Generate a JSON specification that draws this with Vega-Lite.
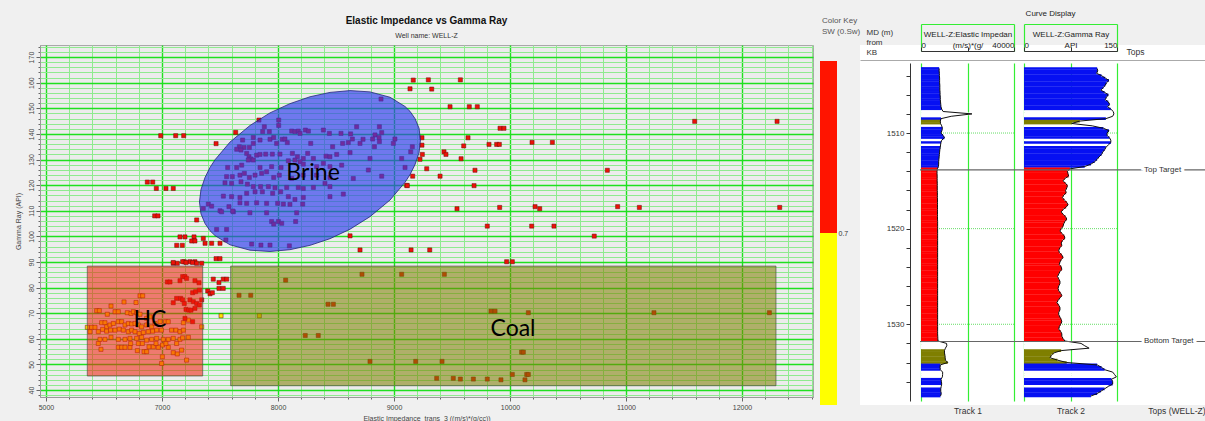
{
  "$schema": "https://vega.github.io/schema/vega-lite/v6.json",
  "autosize": "none",
  "padding": {"left": 40, "top": 45, "right": 1165, "bottom": 376},
  "background": "#f0f0f0",
  "spacing": 7,
  "bounds": "flush",
  "config": {"font": "Liberation Sans", "view": {"stroke": null}},
  "datasets": {
    "pts": [
      {"e":6978,"g":139.3,"sw":0.85},{"e":7118,"g":139.3,"sw":0.85},{"e":7187,"g":139.3,"sw":0.85},{"e":7635,"g":140.6,"sw":0.85},{"e":7466,"g":136.2,"sw":0.85},
      {"e":6747,"g":121.2,"sw":0.85},{"e":6840,"g":121.2,"sw":0.85},{"e":6902,"g":118.7,"sw":0.85},{"e":7034,"g":118.7,"sw":0.85},{"e":7097,"g":118.7,"sw":0.85},
      {"e":6874,"g":108.0,"sw":0.85},{"e":6931,"g":108.0,"sw":0.85},{"e":7299,"g":106.4,"sw":0.85},{"e":7155,"g":99.8,"sw":0.85},{"e":7198,"g":99.8,"sw":0.85},
      {"e":7276,"g":99.8,"sw":0.85},{"e":7127,"g":96.5,"sw":0.85},{"e":7175,"g":96.5,"sw":0.85},{"e":7256,"g":98.2,"sw":0.85},{"e":7284,"g":98.2,"sw":0.85},
      {"e":7356,"g":99.2,"sw":0.85},{"e":7371,"g":97.3,"sw":0.85},{"e":7428,"g":97.3,"sw":0.85},{"e":7500,"g":97.3,"sw":0.85},{"e":7466,"g":91.3,"sw":0.85},
      {"e":7500,"g":91.3,"sw":0.85},{"e":7097,"g":89.5,"sw":0.85},{"e":7132,"g":89.5,"sw":0.85},{"e":7192,"g":90.1,"sw":0.85},{"e":7241,"g":90.1,"sw":0.85},
      {"e":7284,"g":90.1,"sw":0.85},{"e":9138,"g":157.6,"sw":0.85},{"e":9166,"g":161.0,"sw":0.85},{"e":8621,"g":100.2,"sw":0.85},{"e":8707,"g":94.7,"sw":0.85},
      {"e":9147,"g":94.7,"sw":0.85},{"e":9109,"g":119.9,"sw":0.85},{"e":9224,"g":130.1,"sw":0.85},
      {"e":7442,"g":83.3,"sw":0.85},{"e":7491,"g":82.0,"sw":0.85},{"e":7528,"g":83.3,"sw":0.85},{"e":7558,"g":83.3,"sw":0.85},{"e":7491,"g":79.7,"sw":0.85},
      {"e":7528,"g":79.7,"sw":0.85},{"e":7394,"g":78.7,"sw":0.85},{"e":7414,"g":77.6,"sw":0.85},{"e":7434,"g":78.0,"sw":0.85},
      {"e":7509,"g":69.0,"sw":0.45},{"e":7839,"g":69.0,"sw":0.45},
      {"e":7664,"g":77.0,"sw":0.85},{"e":7765,"g":77.0,"sw":0.85},{"e":8066,"g":82.9,"sw":0.85},{"e":8724,"g":85.2,"sw":0.85},{"e":9066,"g":85.2,"sw":0.85},
      {"e":8431,"g":73.5,"sw":0.85},{"e":8477,"g":73.5,"sw":0.85},{"e":8235,"g":61.3,"sw":0.85},{"e":8347,"g":61.3,"sw":0.85},{"e":8793,"g":51.2,"sw":0.85},{"e":9187,"g":51.2,"sw":0.85},
      {"e":9296,"g":161.1,"sw":0.85},{"e":9572,"g":161.1,"sw":0.85},{"e":9325,"g":157.5,"sw":0.85},{"e":9483,"g":150.6,"sw":0.85},{"e":9649,"g":150.6,"sw":0.85},
      {"e":9718,"g":150.6,"sw":0.85},{"e":11592,"g":144.9,"sw":0.85},{"e":12302,"g":144.9,"sw":0.85},{"e":9914,"g":142.2,"sw":0.85},{"e":9948,"g":142.2,"sw":0.85},
      {"e":9638,"g":138.5,"sw":0.85},{"e":9241,"g":138.5,"sw":0.85},{"e":9601,"g":135.3,"sw":0.85},{"e":9819,"g":135.9,"sw":0.85},{"e":9885,"g":135.9,"sw":0.85},
      {"e":9908,"g":135.9,"sw":0.85},{"e":10190,"g":136.7,"sw":0.85},{"e":10365,"g":136.7,"sw":0.85},{"e":9431,"g":133.0,"sw":0.85},{"e":9448,"g":132.0,"sw":0.85},
      {"e":9578,"g":130.3,"sw":0.85},{"e":9241,"g":135.6,"sw":0.85},{"e":9244,"g":132.0,"sw":0.85},{"e":9282,"g":126.4,"sw":0.85},{"e":9698,"g":125.8,"sw":0.85},
      {"e":10839,"g":125.8,"sw":0.85},{"e":9161,"g":123.5,"sw":0.85},{"e":9397,"g":123.5,"sw":0.85},{"e":9115,"g":119.8,"sw":0.85},{"e":9690,"g":119.8,"sw":0.85},
      {"e":9543,"g":110.8,"sw":0.85},{"e":9911,"g":111.3,"sw":0.85},{"e":10216,"g":111.6,"sw":0.85},{"e":10256,"g":110.8,"sw":0.85},{"e":10928,"g":111.6,"sw":0.85},
      {"e":11115,"g":111.3,"sw":0.85},{"e":12325,"g":111.3,"sw":0.85},{"e":9804,"g":104.0,"sw":0.85},{"e":10187,"g":104.0,"sw":0.85},{"e":10379,"g":104.0,"sw":0.85},
      {"e":10726,"g":100.1,"sw":0.85},{"e":9308,"g":94.7,"sw":0.85},{"e":9971,"g":90.1,"sw":0.85},{"e":10020,"g":90.1,"sw":0.85},
      {"e":9434,"g":85.2,"sw":0.85},{"e":9836,"g":70.8,"sw":0.85},{"e":9871,"g":70.8,"sw":0.85},{"e":10158,"g":70.2,"sw":0.85},{"e":11241,"g":70.2,"sw":0.85},
      {"e":12236,"g":70.2,"sw":0.85},{"e":10100,"g":54.8,"sw":0.85},{"e":10115,"g":54.8,"sw":0.85},{"e":9414,"g":51.2,"sw":0.85},{"e":9368,"g":44.6,"sw":0.85},
      {"e":9511,"g":44.6,"sw":0.85},{"e":9572,"g":44.3,"sw":0.85},{"e":9684,"g":44.3,"sw":0.85},{"e":9804,"g":44.3,"sw":0.85},{"e":9922,"g":44.0,"sw":0.85},
      {"e":10020,"g":46.1,"sw":0.85},{"e":10129,"g":44.0,"sw":0.85},{"e":10144,"g":46.1,"sw":0.85},{"e":10158,"g":46.1,"sw":0.85},
      {"e":8888,"g":153.6,"sw":0.85},{"e":7836,"g":145.4,"sw":0.85},{"e":8006,"g":145.4,"sw":0.85},{"e":7882,"g":142.8,"sw":0.85},{"e":8006,"g":143.3,"sw":0.85},
      {"e":8678,"g":142.8,"sw":0.85},{"e":7868,"g":140.9,"sw":0.85},{"e":7925,"g":140.9,"sw":0.85},{"e":8118,"g":141.1,"sw":0.85},{"e":8146,"g":140.9,"sw":0.85},
      {"e":8175,"g":141.1,"sw":0.85},{"e":8236,"g":141.5,"sw":0.85},{"e":8262,"g":141.1,"sw":0.85},{"e":8391,"g":141.5,"sw":0.85},{"e":8874,"g":142.8,"sw":0.85},
      {"e":8894,"g":140.5,"sw":0.85},{"e":8836,"g":139.6,"sw":0.85},{"e":7695,"g":137.6,"sw":0.85},{"e":7787,"g":138.6,"sw":0.85},{"e":7845,"g":137.6,"sw":0.85},
      {"e":7931,"g":137.9,"sw":0.85},{"e":7963,"g":138.6,"sw":0.85},{"e":8037,"g":137.9,"sw":0.85},{"e":8060,"g":138.0,"sw":0.85},{"e":8190,"g":140.2,"sw":0.85},
      {"e":8443,"g":140.2,"sw":0.85},{"e":8543,"g":140.2,"sw":0.85},{"e":8626,"g":140.0,"sw":0.85},{"e":8641,"g":138.0,"sw":0.85},{"e":8733,"g":137.9,"sw":0.85},
      {"e":8816,"g":138.0,"sw":0.85},{"e":8871,"g":138.6,"sw":0.85},{"e":9008,"g":138.0,"sw":0.85},{"e":7667,"g":135.0,"sw":0.85},{"e":7707,"g":134.7,"sw":0.85},
      {"e":7753,"g":134.7,"sw":0.85},{"e":7787,"g":136.3,"sw":0.85},{"e":7988,"g":136.3,"sw":0.85},{"e":8080,"g":136.6,"sw":0.85},{"e":8282,"g":136.3,"sw":0.85},
      {"e":8471,"g":135.0,"sw":0.85},{"e":8557,"g":136.3,"sw":0.85},{"e":8606,"g":136.6,"sw":0.85},{"e":8707,"g":136.3,"sw":0.85},{"e":8831,"g":135.0,"sw":0.85},
      {"e":8874,"g":137.0,"sw":0.85},{"e":8994,"g":136.3,"sw":0.85},{"e":9158,"g":135.0,"sw":0.85},{"e":7644,"g":134.0,"sw":0.85},{"e":7681,"g":133.7,"sw":0.85},
      {"e":7730,"g":132.4,"sw":0.85},{"e":7750,"g":131.1,"sw":0.85},{"e":7767,"g":130.2,"sw":0.85},{"e":7816,"g":131.7,"sw":0.85},{"e":7845,"g":132.0,"sw":0.85},
      {"e":7894,"g":132.1,"sw":0.85},{"e":7951,"g":132.1,"sw":0.85},{"e":8017,"g":132.1,"sw":0.85},{"e":8124,"g":132.4,"sw":0.85},{"e":8167,"g":131.1,"sw":0.85},
      {"e":8218,"g":130.4,"sw":0.85},{"e":8256,"g":132.4,"sw":0.85},{"e":8305,"g":130.4,"sw":0.85},{"e":8414,"g":131.3,"sw":0.85},{"e":8448,"g":131.1,"sw":0.85},
      {"e":8506,"g":132.0,"sw":0.85},{"e":8621,"g":132.7,"sw":0.85},{"e":8793,"g":130.4,"sw":0.85},{"e":9066,"g":130.4,"sw":0.85},{"e":9144,"g":133.0,"sw":0.85},
      {"e":7566,"g":126.9,"sw":0.85},{"e":7644,"g":126.9,"sw":0.85},{"e":7687,"g":127.8,"sw":0.85},{"e":7744,"g":129.8,"sw":0.85},{"e":7787,"g":129.8,"sw":0.85},
      {"e":7845,"g":126.9,"sw":0.85},{"e":7945,"g":127.2,"sw":0.85},{"e":8026,"g":126.9,"sw":0.85},{"e":8089,"g":129.5,"sw":0.85},{"e":8146,"g":129.8,"sw":0.85},
      {"e":8190,"g":129.1,"sw":0.85},{"e":8218,"g":128.2,"sw":0.85},{"e":8333,"g":127.2,"sw":0.85},{"e":8391,"g":128.5,"sw":0.85},{"e":8448,"g":127.2,"sw":0.85},
      {"e":8549,"g":127.8,"sw":0.85},{"e":8779,"g":125.9,"sw":0.85},{"e":9095,"g":126.9,"sw":0.85},{"e":7557,"g":123.3,"sw":0.85},{"e":7606,"g":123.3,"sw":0.85},
      {"e":7672,"g":123.9,"sw":0.85},{"e":7710,"g":124.6,"sw":0.85},{"e":7753,"g":123.0,"sw":0.85},{"e":7802,"g":123.9,"sw":0.85},{"e":7859,"g":124.6,"sw":0.85},
      {"e":7902,"g":125.2,"sw":0.85},{"e":7963,"g":123.0,"sw":0.85},{"e":8011,"g":123.9,"sw":0.85},{"e":8118,"g":122.6,"sw":0.85},{"e":8218,"g":123.9,"sw":0.85},
      {"e":8333,"g":123.9,"sw":0.85},{"e":8448,"g":123.0,"sw":0.85},{"e":8649,"g":122.6,"sw":0.85},{"e":8894,"g":123.5,"sw":0.85},{"e":7543,"g":120.9,"sw":0.85},
      {"e":7600,"g":120.7,"sw":0.85},{"e":7681,"g":121.3,"sw":0.85},{"e":7736,"g":120.4,"sw":0.85},{"e":7787,"g":119.4,"sw":0.85},{"e":7850,"g":119.4,"sw":0.85},
      {"e":7917,"g":119.4,"sw":0.85},{"e":7974,"g":119.0,"sw":0.85},{"e":8075,"g":119.1,"sw":0.85},{"e":8175,"g":119.1,"sw":0.85},{"e":8305,"g":119.1,"sw":0.85},
      {"e":8218,"g":118.7,"sw":0.85},{"e":8405,"g":120.7,"sw":0.85},{"e":8448,"g":119.4,"sw":0.85},{"e":7529,"g":115.7,"sw":0.85},{"e":7600,"g":115.5,"sw":0.85},
      {"e":7672,"g":115.2,"sw":0.85},{"e":7730,"g":116.8,"sw":0.85},{"e":7802,"g":117.4,"sw":0.85},{"e":7865,"g":117.4,"sw":0.85},{"e":7954,"g":116.8,"sw":0.85},
      {"e":8023,"g":117.4,"sw":0.85},{"e":8089,"g":115.5,"sw":0.85},{"e":8146,"g":114.4,"sw":0.85},{"e":8218,"g":115.2,"sw":0.85},{"e":8448,"g":115.5,"sw":0.85},
      {"e":8563,"g":116.5,"sw":0.85},{"e":7399,"g":112.6,"sw":0.85},{"e":7428,"g":111.8,"sw":0.85},{"e":7356,"g":110.9,"sw":0.85},{"e":7500,"g":110.0,"sw":0.85},
      {"e":7577,"g":111.6,"sw":0.85},{"e":7615,"g":109.6,"sw":0.85},{"e":7672,"g":113.1,"sw":0.85},{"e":7730,"g":112.9,"sw":0.85},{"e":7816,"g":113.1,"sw":0.85},
      {"e":7902,"g":112.9,"sw":0.85},{"e":7997,"g":112.9,"sw":0.85},{"e":8046,"g":112.6,"sw":0.85},{"e":8103,"g":112.5,"sw":0.85},{"e":8213,"g":112.6,"sw":0.85},
      {"e":8161,"g":109.2,"sw":0.85},{"e":7902,"g":109.2,"sw":0.85},{"e":7758,"g":109.2,"sw":0.85},{"e":7609,"g":109.9,"sw":0.85},{"e":7514,"g":109.6,"sw":0.85},
      {"e":7945,"g":105.8,"sw":0.85},{"e":7963,"g":104.8,"sw":0.85},{"e":8003,"g":105.8,"sw":0.85},{"e":8032,"g":105.1,"sw":0.85},{"e":8152,"g":105.8,"sw":0.85},
      {"e":7471,"g":102.7,"sw":0.85},{"e":7557,"g":102.7,"sw":0.85},{"e":7773,"g":97.0,"sw":0.85},{"e":7853,"g":96.6,"sw":0.85},{"e":7931,"g":96.6,"sw":0.85},
      {"e":8098,"g":96.3,"sw":0.85},{"e":7551,"g":98.6,"sw":0.85},
      {"e":5713,"g":64.5,"sw":0.45},{"e":5759,"g":62.8,"sw":0.45},{"e":5787,"g":64.5,"sw":0.45},{"e":5845,"g":64.5,"sw":0.45},{"e":5874,"g":71.0,"sw":0.45},
      {"e":5920,"g":71.0,"sw":0.45},{"e":6057,"g":69.6,"sw":0.45},{"e":6121,"g":72.8,"sw":0.45},{"e":6345,"g":74.4,"sw":0.45},{"e":6552,"g":74.2,"sw":0.45},
      {"e":6621,"g":76.8,"sw":0.45},{"e":6667,"g":76.8,"sw":0.45},{"e":6190,"g":70.6,"sw":0.45},{"e":6247,"g":70.6,"sw":0.45},{"e":6402,"g":70.2,"sw":0.45},
      {"e":6466,"g":69.9,"sw":0.45},{"e":6506,"g":70.6,"sw":0.45},{"e":6563,"g":70.2,"sw":0.45},{"e":6621,"g":69.6,"sw":0.45},{"e":6736,"g":68.0,"sw":0.45},
      {"e":6793,"g":68.6,"sw":0.45},{"e":5960,"g":66.3,"sw":0.45},{"e":6017,"g":66.3,"sw":0.45},{"e":6046,"g":64.7,"sw":0.45},{"e":6103,"g":65.4,"sw":0.45},
      {"e":6161,"g":66.0,"sw":0.45},{"e":6247,"g":66.7,"sw":0.45},{"e":6305,"g":66.7,"sw":0.45},{"e":6362,"g":65.4,"sw":0.45},{"e":6420,"g":66.0,"sw":0.45},
      {"e":6477,"g":65.8,"sw":0.45},{"e":6535,"g":66.0,"sw":0.45},{"e":6592,"g":65.4,"sw":0.45},{"e":6649,"g":64.7,"sw":0.45},{"e":6736,"g":65.4,"sw":0.45},
      {"e":6822,"g":64.7,"sw":0.45},{"e":6879,"g":66.0,"sw":0.45},{"e":6966,"g":66.7,"sw":0.45},{"e":7031,"g":66.7,"sw":0.45},{"e":7054,"g":66.7,"sw":0.45},
      {"e":5902,"g":62.8,"sw":0.45},{"e":5977,"g":63.7,"sw":0.45},{"e":6046,"g":63.0,"sw":0.45},{"e":6115,"g":63.4,"sw":0.45},{"e":6190,"g":63.4,"sw":0.45},
      {"e":6264,"g":63.8,"sw":0.45},{"e":6333,"g":63.4,"sw":0.45},{"e":6420,"g":62.8,"sw":0.45},{"e":6477,"g":63.4,"sw":0.45},{"e":6535,"g":62.8,"sw":0.45},
      {"e":6609,"g":62.1,"sw":0.45},{"e":6678,"g":62.5,"sw":0.45},{"e":6764,"g":62.8,"sw":0.45},{"e":6839,"g":63.0,"sw":0.45},{"e":6908,"g":63.4,"sw":0.45},
      {"e":6989,"g":63.4,"sw":0.45},{"e":7083,"g":63.4,"sw":0.45},{"e":7120,"g":63.4,"sw":0.45},{"e":7155,"g":62.8,"sw":0.45},{"e":7184,"g":63.4,"sw":0.45},
      {"e":5931,"g":59.8,"sw":0.45},{"e":6017,"g":59.8,"sw":0.45},{"e":6121,"g":60.6,"sw":0.45},{"e":6247,"g":59.8,"sw":0.45},{"e":6362,"g":59.8,"sw":0.45},
      {"e":6448,"g":60.2,"sw":0.45},{"e":6563,"g":60.2,"sw":0.45},{"e":6649,"g":60.6,"sw":0.45},{"e":6736,"g":59.5,"sw":0.45},{"e":6822,"g":59.8,"sw":0.45},
      {"e":6908,"g":60.2,"sw":0.45},{"e":7011,"g":59.8,"sw":0.45},{"e":7054,"g":59.8,"sw":0.45},{"e":7097,"g":60.2,"sw":0.45},{"e":7155,"g":59.8,"sw":0.45},
      {"e":7227,"g":60.6,"sw":0.45},{"e":5902,"g":58.2,"sw":0.45},{"e":5948,"g":55.9,"sw":0.45},{"e":6247,"g":56.7,"sw":0.45},{"e":6305,"g":56.7,"sw":0.45},
      {"e":6362,"g":56.7,"sw":0.45},{"e":6448,"g":56.7,"sw":0.45},{"e":6575,"g":55.4,"sw":0.45},{"e":6690,"g":55.0,"sw":0.45},{"e":6736,"g":55.0,"sw":0.45},
      {"e":6776,"g":56.9,"sw":0.45},{"e":6851,"g":56.9,"sw":0.45},{"e":6937,"g":56.7,"sw":0.45},{"e":7005,"g":57.6,"sw":0.45},{"e":7054,"g":56.7,"sw":0.45},
      {"e":7097,"g":54.6,"sw":0.45},{"e":7132,"g":54.1,"sw":0.45},{"e":7169,"g":55.6,"sw":0.45},{"e":7212,"g":51.7,"sw":0.45},{"e":7003,"g":53.0,"sw":0.45},
      {"e":6994,"g":50.4,"sw":0.45},{"e":6460,"g":58.2,"sw":0.45},{"e":6592,"g":58.2,"sw":0.45},{"e":6661,"g":58.2,"sw":0.45},{"e":6897,"g":58.2,"sw":0.45},
      {"e":7034,"g":58.2,"sw":0.45},{"e":7126,"g":58.2,"sw":0.45},{"e":7178,"g":60.4,"sw":0.45},{"e":7342,"g":64.7,"sw":0.45},{"e":7184,"g":66.3,"sw":0.45},
      {"e":7227,"g":67.3,"sw":0.45},
      {"e":7178,"g":84.3,"sw":0.85},{"e":7198,"g":84.3,"sw":0.85},{"e":7212,"g":83.6,"sw":0.85},{"e":7155,"g":82.7,"sw":0.85},{"e":7284,"g":82.7,"sw":0.85},
      {"e":7319,"g":81.9,"sw":0.85},{"e":7046,"g":82.2,"sw":0.85},{"e":7069,"g":82.2,"sw":0.85},{"e":7264,"g":78.0,"sw":0.85},{"e":7290,"g":78.4,"sw":0.85},
      {"e":7322,"g":79.0,"sw":0.85},{"e":7126,"g":75.8,"sw":0.85},{"e":7161,"g":75.8,"sw":0.85},{"e":7178,"g":75.2,"sw":0.85},{"e":7192,"g":73.8,"sw":0.85},
      {"e":7241,"g":75.2,"sw":0.85},{"e":7270,"g":74.5,"sw":0.85},{"e":7299,"g":73.8,"sw":0.85},{"e":7322,"g":73.2,"sw":0.85},{"e":7342,"g":75.2,"sw":0.85},
      {"e":7097,"g":74.1,"sw":0.85},{"e":7207,"g":71.5,"sw":0.85},{"e":7230,"g":71.2,"sw":0.85},{"e":7250,"g":71.2,"sw":0.85},{"e":7284,"g":71.9,"sw":0.85},
      {"e":7264,"g":66.7,"sw":0.85},{"e":7198,"g":68.0,"sw":0.85},{"e":7097,"g":89.8,"sw":0.85},{"e":7178,"g":90.1,"sw":0.85},{"e":7207,"g":89.8,"sw":0.85},
      {"e":7264,"g":89.8,"sw":0.85},{"e":7299,"g":89.5,"sw":0.85},{"e":7342,"g":89.5,"sw":0.85}
    ],
    "ellipse": [
      {"e":7323,"top":113.4,"bot":113.4},{"e":7336,"top":118.3,"bot":108.8},{"e":7371,"top":123.0,"bot":105.0},{"e":7414,"top":126.9,"bot":102.2},
      {"e":7457,"top":129.9,"bot":100.3},{"e":7586,"top":136.8,"bot":96.7},{"e":7759,"top":143.3,"bot":94.6},{"e":7931,"top":148.2,"bot":94.1},
      {"e":8103,"top":151.8,"bot":94.8},{"e":8276,"top":154.5,"bot":96.5},{"e":8448,"top":156.2,"bot":99.1},{"e":8621,"top":156.9,"bot":102.8},
      {"e":8793,"top":156.4,"bot":107.7},{"e":8966,"top":154.3,"bot":114.2},{"e":9095,"top":150.7,"bot":121.1},{"e":9138,"top":148.8,"bot":124.1},
      {"e":9181,"top":146.0,"bot":128.0},{"e":9216,"top":142.2,"bot":132.7},{"e":9228,"top":137.6,"bot":137.6}
    ],
    "zones": [
      {"zone":"HC","e1":5712,"e2":7351,"g1":45.5,"g2":88.4},
      {"zone":"Coal","e1":7592,"e2":12293,"g1":41.7,"g2":88.4}
    ],
    "zoneLabels": [
      {"label":"HC","e":6793,"g":67.3},
      {"label":"Brine","e":8302,"g":124.7},
      {"label":"Coal","e":10026,"g":63.8}
    ],
    "key": [
      {"lo":0.4,"hi":0.7,"sw":0.45},
      {"lo":0.7,"hi":1.0,"sw":0.85}
    ],
    "depthGrid": [{"d":1510},{"d":1520},{"d":1530}],
    "tops": [{"top":"Top Target","d":1513.85},{"top":"Bottom Target","d":1531.8}],
    "logs": [
      {"d":1503.25,"ei":7800,"gr":118,"f":"B"},{"d":1503.5,"ei":7800,"gr":119,"f":"B"},{"d":1503.75,"ei":7900,"gr":117,"f":"B"},{"d":1504,"ei":7900,"gr":125,"f":"B"},
      {"d":1504.25,"ei":8000,"gr":131,"f":"B"},{"d":1504.5,"ei":8000,"gr":137,"f":"B"},{"d":1504.75,"ei":8000,"gr":133,"f":"B"},{"d":1505,"ei":8100,"gr":131,"f":"B"},
      {"d":1505.25,"ei":8100,"gr":128,"f":"B"},{"d":1505.5,"ei":8100,"gr":124,"f":"B"},{"d":1505.75,"ei":8200,"gr":130,"f":"B"},{"d":1506,"ei":8200,"gr":136,"f":"B"},
      {"d":1506.25,"ei":8300,"gr":133,"f":"B"},{"d":1506.5,"ei":8300,"gr":131,"f":"B"},{"d":1506.75,"ei":8400,"gr":136,"f":"B"},{"d":1507,"ei":8500,"gr":138,"f":"B"},
      {"d":1507.25,"ei":8600,"gr":135,"f":"B"},{"d":1507.5,"ei":8900,"gr":140,"f":"B"},{"d":1507.75,"ei":9500,"gr":144,"f":"W"},{"d":1508,"ei":21900,"gr":145,"f":"W"},
      {"d":1508.25,"ei":13000,"gr":143,"f":"W"},{"d":1508.5,"ei":8600,"gr":132,"f":"B"},{"d":1508.75,"ei":8300,"gr":90,"f":"O"},{"d":1509,"ei":8400,"gr":77,"f":"O"},
      {"d":1509.25,"ei":8900,"gr":110,"f":"W"},{"d":1509.5,"ei":9200,"gr":128,"f":"B"},{"d":1509.75,"ei":9000,"gr":137,"f":"B"},{"d":1510,"ei":8600,"gr":134,"f":"B"},
      {"d":1510.25,"ei":9500,"gr":134,"f":"B"},{"d":1510.5,"ei":10100,"gr":138,"f":"B"},{"d":1510.75,"ei":8900,"gr":140,"f":"W"},{"d":1511,"ei":8600,"gr":140,"f":"B"},
      {"d":1511.25,"ei":8400,"gr":136,"f":"W"},{"d":1511.5,"ei":8300,"gr":132,"f":"B"},{"d":1511.75,"ei":8100,"gr":130,"f":"B"},{"d":1512,"ei":8000,"gr":127,"f":"B"},
      {"d":1512.25,"ei":7900,"gr":125,"f":"B"},{"d":1512.5,"ei":7800,"gr":121,"f":"B"},{"d":1512.75,"ei":7700,"gr":118,"f":"B"},{"d":1513,"ei":7600,"gr":114,"f":"B"},
      {"d":1513.25,"ei":7600,"gr":108,"f":"B"},{"d":1513.5,"ei":7500,"gr":98,"f":"B"},
      {"d":1513.75,"ei":7000,"gr":74,"f":"R"},{"d":1514,"ei":6900,"gr":70,"f":"R"},{"d":1514.25,"ei":6900,"gr":71,"f":"R"},{"d":1514.5,"ei":6950,"gr":72,"f":"R"},
      {"d":1514.75,"ei":6950,"gr":66,"f":"R"},{"d":1515,"ei":6950,"gr":63,"f":"R"},{"d":1515.25,"ei":7000,"gr":67,"f":"R"},{"d":1515.5,"ei":7000,"gr":70,"f":"R"},
      {"d":1515.75,"ei":7000,"gr":69,"f":"R"},{"d":1516,"ei":7000,"gr":67,"f":"R"},{"d":1516.25,"ei":7050,"gr":68,"f":"R"},{"d":1516.5,"ei":7050,"gr":64,"f":"R"},
      {"d":1516.75,"ei":7050,"gr":62,"f":"R"},{"d":1517,"ei":7100,"gr":65,"f":"R"},{"d":1517.25,"ei":7100,"gr":69,"f":"R"},{"d":1517.5,"ei":7100,"gr":71,"f":"R"},
      {"d":1517.75,"ei":7100,"gr":68,"f":"R"},{"d":1518,"ei":7100,"gr":63,"f":"R"},{"d":1518.25,"ei":7100,"gr":60,"f":"R"},{"d":1518.5,"ei":7100,"gr":63,"f":"R"},
      {"d":1518.75,"ei":7100,"gr":67,"f":"R"},{"d":1519,"ei":7100,"gr":69,"f":"R"},{"d":1519.25,"ei":7150,"gr":66,"f":"R"},{"d":1519.5,"ei":7150,"gr":64,"f":"R"},
      {"d":1519.75,"ei":7150,"gr":63,"f":"R"},{"d":1520,"ei":7150,"gr":60,"f":"R"},{"d":1520.25,"ei":7150,"gr":58,"f":"R"},{"d":1520.5,"ei":7150,"gr":61,"f":"R"},
      {"d":1520.75,"ei":7150,"gr":65,"f":"R"},{"d":1521,"ei":7150,"gr":66,"f":"R"},{"d":1521.25,"ei":7150,"gr":62,"f":"R"},{"d":1521.5,"ei":7150,"gr":60,"f":"R"},
      {"d":1521.75,"ei":7150,"gr":61,"f":"R"},{"d":1522,"ei":7150,"gr":58,"f":"R"},{"d":1522.25,"ei":7150,"gr":56,"f":"R"},{"d":1522.5,"ei":7150,"gr":57,"f":"R"},
      {"d":1522.75,"ei":7150,"gr":61,"f":"R"},{"d":1523,"ei":7150,"gr":63,"f":"R"},{"d":1523.25,"ei":7150,"gr":60,"f":"R"},{"d":1523.5,"ei":7150,"gr":58,"f":"R"},
      {"d":1523.75,"ei":7150,"gr":57,"f":"R"},{"d":1524,"ei":7150,"gr":60,"f":"R"},{"d":1524.25,"ei":7150,"gr":61,"f":"R"},{"d":1524.5,"ei":7150,"gr":58,"f":"R"},
      {"d":1524.75,"ei":7150,"gr":56,"f":"R"},{"d":1525,"ei":7150,"gr":54,"f":"R"},{"d":1525.25,"ei":7150,"gr":56,"f":"R"},{"d":1525.5,"ei":7150,"gr":58,"f":"R"},
      {"d":1525.75,"ei":7150,"gr":58,"f":"R"},{"d":1526,"ei":7150,"gr":56,"f":"R"},{"d":1526.25,"ei":7150,"gr":55,"f":"R"},{"d":1526.5,"ei":7150,"gr":56,"f":"R"},
      {"d":1526.75,"ei":7150,"gr":59,"f":"R"},{"d":1527,"ei":7150,"gr":61,"f":"R"},{"d":1527.25,"ei":7150,"gr":58,"f":"R"},{"d":1527.5,"ei":7150,"gr":55,"f":"R"},
      {"d":1527.75,"ei":7150,"gr":53,"f":"R"},{"d":1528,"ei":7150,"gr":56,"f":"R"},{"d":1528.25,"ei":7150,"gr":58,"f":"R"},{"d":1528.5,"ei":7150,"gr":58,"f":"R"},
      {"d":1528.75,"ei":7150,"gr":56,"f":"R"},{"d":1529,"ei":7150,"gr":56,"f":"R"},{"d":1529.25,"ei":7150,"gr":58,"f":"R"},{"d":1529.5,"ei":7150,"gr":60,"f":"R"},
      {"d":1529.75,"ei":7150,"gr":61,"f":"R"},{"d":1530,"ei":7150,"gr":59,"f":"R"},{"d":1530.25,"ei":7150,"gr":57,"f":"R"},{"d":1530.5,"ei":7150,"gr":56,"f":"R"},
      {"d":1530.75,"ei":7150,"gr":59,"f":"R"},{"d":1531,"ei":7150,"gr":61,"f":"R"},{"d":1531.25,"ei":7200,"gr":61,"f":"R"},{"d":1531.5,"ei":7250,"gr":63,"f":"R"},
      {"d":1531.75,"ei":7300,"gr":66,"f":"R"},
      {"d":1532,"ei":11000,"gr":92,"f":"W"},{"d":1532.25,"ei":11100,"gr":98,"f":"W"},{"d":1532.5,"ei":10500,"gr":105,"f":"W"},
      {"d":1532.75,"ei":10100,"gr":60,"f":"O"},{"d":1533,"ei":10100,"gr":48,"f":"O"},{"d":1533.25,"ei":10300,"gr":44,"f":"O"},{"d":1533.5,"ei":10400,"gr":42,"f":"O"},
      {"d":1533.75,"ei":10500,"gr":54,"f":"O"},{"d":1534,"ei":11500,"gr":69,"f":"O"},
      {"d":1534.25,"ei":8300,"gr":118,"f":"B"},{"d":1534.5,"ei":8200,"gr":125,"f":"B"},{"d":1534.75,"ei":8300,"gr":130,"f":"B"},
      {"d":1535,"ei":9300,"gr":143,"f":"W"},{"d":1535.25,"ei":9300,"gr":146,"f":"W"},{"d":1535.5,"ei":9200,"gr":149,"f":"W"},
      {"d":1535.75,"ei":8600,"gr":141,"f":"B"},{"d":1536,"ei":8800,"gr":143,"f":"B"},{"d":1536.25,"ei":8900,"gr":143,"f":"B"},{"d":1536.5,"ei":8700,"gr":136,"f":"W"},
      {"d":1536.75,"ei":8500,"gr":130,"f":"B"},{"d":1537,"ei":8500,"gr":124,"f":"B"},{"d":1537.25,"ei":8700,"gr":118,"f":"B"},{"d":1537.5,"ei":8400,"gr":108,"f":"B"}
    ]
  },
  "hconcat": [
    {
      "width": 773,
      "height": 352,
      "view": {"fill": "#ececec", "stroke": "#a8a8a8"},
      "title": {
        "text": "Elastic Impedance vs Gamma Ray",
        "subtitle": "Well name: WELL-Z",
        "anchor": "middle",
        "frame": "group",
        "fontSize": 10,
        "fontWeight": "bold",
        "color": "#111111",
        "subtitleFontSize": 7,
        "subtitleColor": "#333333",
        "subtitlePadding": 6,
        "offset": 6
      },
      "layer": [
        {
          "data": {"name": "pts"},
          "mark": {"type": "square", "size": 17, "opacity": 1, "stroke": "#6a0c0c", "strokeWidth": 0.5},
          "encoding": {
            "x": {
              "field": "e", "type": "quantitative",
              "scale": {"domain": [4897, 7000, 12612], "range": [0, 122, 773], "nice": false, "zero": false},
              "axis": {
                "title": "Elastic Impedance_trans_3 ((m/s)*(g/cc))",
                "values": [5000, 5400, 5800, 6200, 6600, 7000, 7200, 7400, 7600, 7800, 8000, 8200, 8400, 8600, 8800, 9000, 9200, 9400, 9600, 9800, 10000, 10200, 10400, 10600, 10800, 11000, 11200, 11400, 11600, 11800, 12000, 12200, 12400, 12600],
                "tickCount": 200,
                "format": "d",
                "labelExpr": "datum.value % 1000 === 0 ? datum.label : ''",
                "labelOverlap": false,
                "labelFontSize": 7,
                "labelColor": "#444444",
                "labelPadding": 2,
                "grid": true,
                "gridColor": {"condition": {"test": "datum.value % 1000 === 0", "value": "#1fe01f"}, "value": "#8fea8f"},
                "gridWidth": {"condition": {"test": "datum.value % 1000 === 0", "value": 1.4}, "value": 1},
                "tickSize": {"condition": {"test": "datum.value % 1000 === 0", "value": 4}, "value": 2},
                "tickColor": "#666666",
                "domainColor": "#999999",
                "titleFontSize": 7,
                "titleFontWeight": "normal",
                "titleColor": "#444444",
                "titlePadding": 4
              }
            },
            "y": {
              "field": "g", "type": "quantitative",
              "scale": {"domain": [37.3, 174.7], "nice": false, "zero": false},
              "axis": {
                "title": "Gamma Ray (API)",
                "values": [38, 40, 42, 44, 46, 48, 50, 52, 54, 56, 58, 60, 62, 64, 66, 68, 70, 72, 74, 76, 78, 80, 82, 84, 86, 88, 90, 92, 94, 96, 98, 100, 102, 104, 106, 108, 110, 112, 114, 116, 118, 120, 122, 124, 126, 128, 130, 132, 134, 136, 138, 140, 142, 144, 146, 148, 150, 152, 154, 156, 158, 160, 162, 164, 166, 168, 170, 172, 174],
                "tickCount": 200,
                "format": "d",
                "labelExpr": "datum.value % 10 === 0 ? datum.label : ''",
                "labelOverlap": false,
                "labelAngle": -90,
                "labelFontSize": 7,
                "labelColor": "#444444",
                "labelPadding": 2,
                "grid": true,
                "gridColor": {"condition": {"test": "datum.value % 10 === 0", "value": "#1fe01f"}, "value": "#8fea8f"},
                "gridWidth": {"condition": {"test": "datum.value % 10 === 0", "value": 1.4}, "value": 1},
                "tickSize": {"condition": {"test": "datum.value % 10 === 0", "value": 4}, "value": 2},
                "tickColor": "#666666",
                "domainColor": "#999999",
                "titleFontSize": 7,
                "titleFontWeight": "normal",
                "titleColor": "#444444",
                "titlePadding": 6
              }
            },
            "color": {
              "field": "sw", "type": "quantitative",
              "scale": {"type": "threshold", "domain": [0.7], "range": ["#ffe600", "#ec1208"]},
              "legend": null
            }
          }
        },
        {
          "data": {"name": "zones"},
          "mark": {"type": "rect", "fillOpacity": 0.55, "stroke": "#4a4a4a", "strokeWidth": 0.8, "strokeOpacity": 0.8},
          "encoding": {
            "x": {"field": "e1", "type": "quantitative"},
            "x2": {"field": "e2"},
            "y": {"field": "g1", "type": "quantitative"},
            "y2": {"field": "g2"},
            "fill": {"field": "zone", "type": "nominal", "scale": {"domain": ["HC", "Coal"], "range": ["#f01e0a", "#7d7d00"]}, "legend": null}
          }
        },
        {
          "data": {"name": "ellipse"},
          "mark": {"type": "area", "fill": "#2c3bef", "fillOpacity": 0.65, "stroke": "#23237a", "strokeWidth": 0.8},
          "encoding": {
            "x": {"field": "e", "type": "quantitative"},
            "y": {"field": "top", "type": "quantitative"},
            "y2": {"field": "bot"}
          }
        },
        {
          "data": {"name": "zoneLabels"},
          "mark": {"type": "text", "font": "Lato", "fontSize": 23, "color": "#000000"},
          "encoding": {
            "x": {"field": "e", "type": "quantitative"},
            "y": {"field": "g", "type": "quantitative"},
            "text": {"field": "label"}
          }
        },
        {
          "mark": {"type": "rule", "color": "#000000", "strokeWidth": 3.5, "strokeDash": [13, 10]},
          "encoding": {
            "y": {"datum": 88.5},
            "x": {"datum": 4830},
            "x2": {"datum": 12716}
          }
        },
        {
          "mark": {"type": "rule", "color": "#000000", "strokeWidth": 3.5, "strokeDash": [13, 10]},
          "encoding": {
            "x": {"datum": 7350},
            "y": {"datum": 40},
            "y2": {"datum": 173.6}
          }
        }
      ]
    },
    {
      "width": 33,
      "height": 360,
      "data": {"name": "key"},
      "title": {
        "text": "Color Key",
        "subtitle": "SW (0.Sw)",
        "anchor": "start",
        "frame": "group",
        "dx": 2,
        "fontSize": 8,
        "fontWeight": "normal",
        "color": "#555555",
        "subtitleFontSize": 8,
        "subtitleColor": "#555555",
        "subtitlePadding": 3,
        "offset": 9
      },
      "mark": {"type": "rect"},
      "encoding": {
        "x": {"datum": 0, "scale": {"domain": [0, 1], "range": [0, 17]}, "axis": null},
        "x2": {"datum": 1},
        "y": {
          "field": "lo", "type": "quantitative",
          "scale": {"domain": [0.4, 1.0], "range": [360, 16], "nice": false, "zero": false},
          "axis": {"orient": "right", "offset": -16, "values": [0.7], "domain": false, "ticks": false, "grid": false, "labelFontSize": 7, "labelColor": "#333333", "labelPadding": 1, "title": null}
        },
        "y2": {"field": "hi"},
        "color": {
          "field": "sw", "type": "quantitative",
          "scale": {"type": "threshold", "domain": [0.7], "range": ["#ffff00", "#ff1400"]},
          "legend": null
        }
      }
    },
    {
      "width": 345,
      "height": 360,
      "view": {"fill": "#ffffff", "stroke": null},
      "title": {
        "text": "Curve Display",
        "anchor": "middle",
        "frame": "group",
        "dx": 18,
        "fontSize": 8,
        "fontWeight": "normal",
        "color": "#222222",
        "offset": 5
      },
      "resolve": {"scale": {"x": "independent"}, "axis": {"x": "independent"}},
      "layer": [
        {
          "data": {"name": "depthGrid"},
          "mark": {"type": "rule", "color": "#66dd66", "strokeDash": [1, 1], "strokeWidth": 1},
          "encoding": {
            "x": {"datum": 0, "scale": {"domain": [0, 40000], "range": [61, 154]},
              "axis": {"orient": "top", "offset": 21, "values": [0, 40000], "tickCount": 50, "labels": false, "grid": false, "tickSize": -27, "tickColor": "#33ee33", "tickWidth": 1.2, "domainColor": "#33ee33", "domainWidth": 1.2, "title": null}},
            "x2": {"datum": 40000},
            "y": {
              "field": "d", "type": "quantitative",
              "scale": {"domain": [1503.2, 1537.5], "range": [18, 356], "nice": false, "zero": false},
              "axis": {
                "orient": "left",
                "offset": -50,
                "values": [1504, 1506, 1508, 1510, 1512, 1514, 1516, 1518, 1520, 1522, 1524, 1526, 1528, 1530, 1532, 1534, 1536],
                "tickCount": 100,
                "format": "d",
                "labelExpr": "datum.value % 10 === 0 ? datum.label : ''",
                "labelOverlap": false,
                "labelFontSize": 8,
                "labelColor": "#333333",
                "labelPadding": 2,
                "tickSize": 4,
                "tickColor": "#333333",
                "domainColor": "#333333",
                "grid": false,
                "title": ["MD (m)", "from", "KB"],
                "titleAngle": 0,
                "titleAlign": "left",
                "titleBaseline": "top",
                "titleX": -44,
                "titleY": -17,
                "titleFontSize": 8,
                "titleFontWeight": "normal",
                "titleColor": "#333333",
                "titleLineHeight": 10
              }
            }
          }
        },
        {
          "data": {"name": "depthGrid"},
          "mark": {"type": "rule", "color": "#66dd66", "strokeDash": [1, 1], "strokeWidth": 1},
          "encoding": {
            "x": {"datum": 0, "scale": {"domain": [0, 150], "range": [164, 257]},
              "axis": {"orient": "top", "offset": 21, "values": [0, 150], "tickCount": 50, "labels": false, "grid": false, "tickSize": -27, "tickColor": "#33ee33", "tickWidth": 1.2, "domainColor": "#33ee33", "domainWidth": 1.2, "title": null}},
            "x2": {"datum": 150},
            "y": {"field": "d", "type": "quantitative"}
          }
        },
        {
          "data": {"name": "logs"},
          "mark": {"type": "bar", "orient": "horizontal", "size": 2.7},
          "encoding": {
            "x": {"field": "ei", "type": "quantitative", "scale": {"domain": [0, 40000], "range": [61, 154]},
              "axis": {"orient": "top", "offset": -6, "values": [0, 20000, 40000], "tickCount": 50, "format": "d",
                "labelExpr": "datum.value === 20000 ? '(m/s)*(g/' : datum.label",
                "labelFlush": true, "labelOverlap": false, "labelFontSize": 8, "labelColor": "#222222", "labelPadding": -2,
                "tickSize": 4, "tickColor": "#333333", "domainColor": "#333333",
                "grid": true, "gridColor": "#33ee33", "gridWidth": 1.2,
                "title": "WELL-Z:Elastic Impedan", "titleFontSize": 8, "titleFontWeight": "normal", "titleColor": "#222222", "titlePadding": 3}},
            "y": {"field": "d", "type": "quantitative"},
            "color": {"field": "f", "type": "nominal", "scale": {"domain": ["B", "R", "O", "W"], "range": ["#0610f2", "#ff0000", "#7f7f00", "#ffffff"]}, "legend": null}
          }
        },
        {
          "data": {"name": "logs"},
          "mark": {"type": "line", "color": "#111111", "strokeWidth": 1},
          "encoding": {
            "x": {"field": "ei", "type": "quantitative", "scale": {"domain": [0, 40000], "range": [61, 154]},
              "axis": {"orient": "bottom", "labels": false, "ticks": false, "domain": false, "grid": false,
                "title": "Track 1", "titleFontSize": 8.5, "titleFontWeight": "normal", "titleColor": "#333333", "titlePadding": 1}},
            "y": {"field": "d", "type": "quantitative"},
            "order": {"field": "d"}
          }
        },
        {
          "data": {"name": "logs"},
          "mark": {"type": "bar", "orient": "horizontal", "size": 2.7},
          "encoding": {
            "x": {"field": "gr", "type": "quantitative", "scale": {"domain": [0, 150], "range": [164, 257]},
              "axis": {"orient": "top", "offset": -6, "values": [0, 75, 150], "tickCount": 50, "format": "d",
                "labelExpr": "datum.value === 75 ? 'API' : datum.label",
                "labelFlush": true, "labelOverlap": false, "labelFontSize": 8, "labelColor": "#222222", "labelPadding": -2,
                "tickSize": 4, "tickColor": "#333333", "domainColor": "#333333",
                "grid": true, "gridColor": "#33ee33", "gridWidth": 1.2,
                "title": "WELL-Z:Gamma Ray", "titleFontSize": 8, "titleFontWeight": "normal", "titleColor": "#222222", "titlePadding": 3}},
            "y": {"field": "d", "type": "quantitative"},
            "color": {"field": "f", "type": "nominal", "legend": null}
          }
        },
        {
          "data": {"name": "logs"},
          "mark": {"type": "line", "color": "#111111", "strokeWidth": 1},
          "encoding": {
            "x": {"field": "gr", "type": "quantitative", "scale": {"domain": [0, 150], "range": [164, 257]},
              "axis": {"orient": "bottom", "labels": false, "ticks": false, "domain": false, "grid": false,
                "title": "Track 2", "titleFontSize": 8.5, "titleFontWeight": "normal", "titleColor": "#333333", "titlePadding": 1}},
            "y": {"field": "d", "type": "quantitative"},
            "order": {"field": "d"}
          }
        },
        {
          "data": {"name": "tops"},
          "mark": {"type": "rule", "color": "#666666", "strokeWidth": 1.2},
          "encoding": {
            "x": {"datum": 0.174, "scale": {"domain": [0, 1], "range": [0, 345]},
              "axis": {"orient": "top", "offset": -15, "labels": false, "ticks": false, "grid": false, "domainColor": "#aaaaaa",
                "title": "Tops", "titleX": 266, "titleY": -9, "titleAlign": "left", "titleBaseline": "middle",
                "titleFontSize": 8.5, "titleFontWeight": "normal", "titleColor": "#333333"}},
            "x2": {"datum": 1},
            "y": {"field": "d", "type": "quantitative"}
          }
        },
        {
          "data": {"name": "tops"},
          "mark": {"type": "text", "align": "left", "baseline": "middle", "fontSize": 8, "stroke": "#ffffff", "strokeWidth": 6, "fill": "#ffffff"},
          "encoding": {
            "x": {"datum": 0.823, "scale": {"domain": [0, 1], "range": [0, 345]}, "axis": null},
            "y": {"field": "d", "type": "quantitative"},
            "text": {"field": "top"}
          }
        },
        {
          "data": {"name": "tops"},
          "mark": {"type": "text", "align": "left", "baseline": "middle", "fontSize": 8, "color": "#333333"},
          "encoding": {
            "x": {"datum": 0.823, "scale": {"domain": [0, 1], "range": [0, 345]},
              "axis": {"orient": "bottom", "labels": false, "ticks": false, "domain": false, "grid": false,
                "title": "Tops (WELL-Z)", "titleAnchor": "end", "titleFontSize": 8.5, "titleFontWeight": "normal", "titleColor": "#333333", "titlePadding": 1}},
            "y": {"field": "d", "type": "quantitative"},
            "text": {"field": "top"}
          }
        }
      ]
    }
  ]
}
